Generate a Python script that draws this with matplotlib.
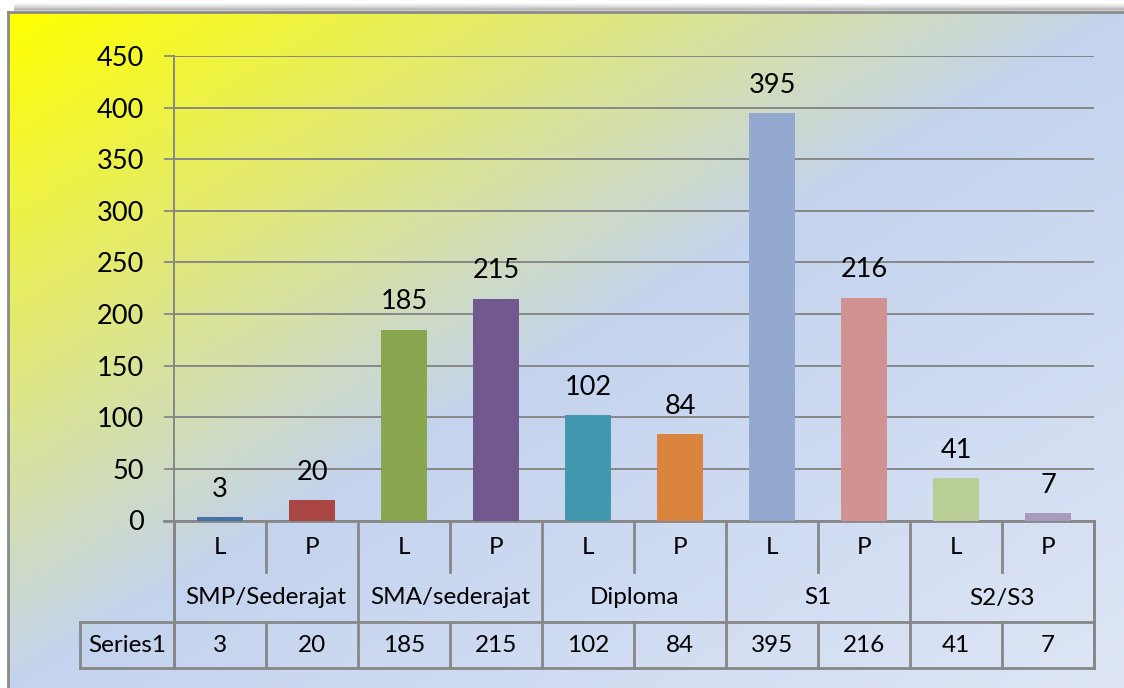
import numpy as np
import matplotlib
matplotlib.use("Agg")
import matplotlib.pyplot as plt
from matplotlib.colors import LinearSegmentedColormap

# ---------------- data ----------------
groups = ["SMP/Sederajat", "SMA/sederajat", "Diploma", "S1", "S2/S3"]
genders = ["L", "P"]
values = [3, 20, 185, 215, 102, 84, 395, 216, 41, 7]
series_name = "Series1"
yticks = [0, 50, 100, 150, 200, 250, 300, 350, 400, 450]
bar_colors = ["#4572A7", "#AA4643", "#89A54E", "#71588F", "#4198AF",
              "#DB843D", "#93A9CF", "#D19392", "#B9CD96", "#A99BBD"]

plt.rcParams['font.family'] = ['Lato', 'DejaVu Sans']

W, H = 1124, 688
fig = plt.figure(figsize=(W / 100, H / 100), dpi=100)

# ---------------- background (pixel coordinates) ----------------
bg = fig.add_axes([0, 0, 1, 1], zorder=-5)
bg.set_xlim(0, W)
bg.set_ylim(H, 0)
bg.axis('off')
FX, FY = 8, 12
xx, yy = np.meshgrid(np.linspace(0, 1, 400), np.linspace(0, 1, 300))
u = xx + yy
cmap = LinearSegmentedColormap.from_list(
    'bg', [(0.0, (1.0, 1.0, 0.0)),
           (0.5, (196 / 255, 211 / 255, 238 / 255)),
           (1.0, (222 / 255, 230 / 255, 246 / 255))])
bg.imshow(u / 2.0, cmap=cmap, vmin=0, vmax=1, extent=[FX, W, H, FY],
          aspect='auto', interpolation='bilinear')
# shadow above top border
for k, a in enumerate([0.05, 0.08, 0.12, 0.18, 0.25, 0.33, 0.42]):
    y = FY - 8 + k
    bg.plot([FX + 6, W], [y, y], color='0.45', alpha=a, lw=1.2,
            solid_capstyle='butt')
bg.plot([FX, W], [FY, FY], color='#8a8a8a', lw=2)
bg.plot([FX, FX], [FY, H], color='#8a8a8a', lw=2)

# ---------------- main axes ----------------
x0, x1 = 174, 1094
ytop, ybot = 56, 520.5
ax = fig.add_axes([x0 / W, (H - ybot) / H, (x1 - x0) / W, (ybot - ytop) / H])
ax.set_facecolor('none')
n = len(values)
xs = np.arange(n)
ax.bar(xs, values, width=0.51, color=bar_colors, zorder=3)
ax.set_xlim(-0.5, n - 0.5)
ax.set_ylim(0, 450)
ax.set_yticks(yticks)
ax.set_yticklabels([str(t) for t in yticks], fontsize=19.5)
ax.tick_params(axis='y', length=7.5, width=1.3, color='#878787', pad=14)
ax.set_xticks([])
ax.yaxis.grid(True, color='#878787', lw=1.4, zorder=1)
for s in ['top', 'right']:
    ax.spines[s].set_visible(False)
ax.spines['left'].set_color('#878787')
ax.spines['left'].set_linewidth(1.4)
ax.spines['bottom'].set_visible(False)

for xv, v in zip(xs, values):
    ax.annotate(str(v), (xv, v), xytext=(0, 14.5), textcoords='offset points',
                ha='center', va='baseline', fontsize=19.5, zorder=5)

# ---------------- data table ----------------
def px(i):
    return x0 + (x1 - x0) * (i + 0.5) / n

tcol = '#878787'
lw = 2.0
r0, r1, r2, r3 = 521, 572, 622, 668
bg.plot([164, x1], [r0, r0], color=tcol, lw=lw, zorder=6)
bg.plot([x0, x0], [r0, r3], color=tcol, lw=lw)
bg.plot([x1, x1], [r0, r3], color=tcol, lw=lw)
bg.plot([80, x1], [r2, r2], color=tcol, lw=lw)
bg.plot([80, x1], [r3, r3], color=tcol, lw=lw)
bg.plot([80, 80], [r2, r3], color=tcol, lw=lw)
for i in range(n + 1):
    xb = px(i - 0.5)
    if i % 2 == 0:
        bg.plot([xb, xb], [r0, r3], color=tcol, lw=lw)
    else:
        bg.plot([xb, xb], [r0, r1], color=tcol, lw=lw)
        bg.plot([xb, xb], [r2, r3], color=tcol, lw=lw)

tfs = 17.5
for i in range(n):
    bg.text(px(i), (r0 + r1) / 2 + 1, genders[i % 2], ha='center',
            va='center', fontsize=tfs)
    bg.text(px(i), (r2 + r3) / 2, str(values[i]), ha='center',
            va='center', fontsize=tfs)
for g, name in enumerate(groups):
    bg.text((px(2 * g) + px(2 * g + 1)) / 2, (r1 + r2) / 2 + 1, name,
            ha='center', va='center', fontsize=tfs)
bg.text((80 + x0) / 2, (r2 + r3) / 2, series_name, ha='center',
        va='center', fontsize=tfs)

fig.savefig('out.png', dpi=100)
